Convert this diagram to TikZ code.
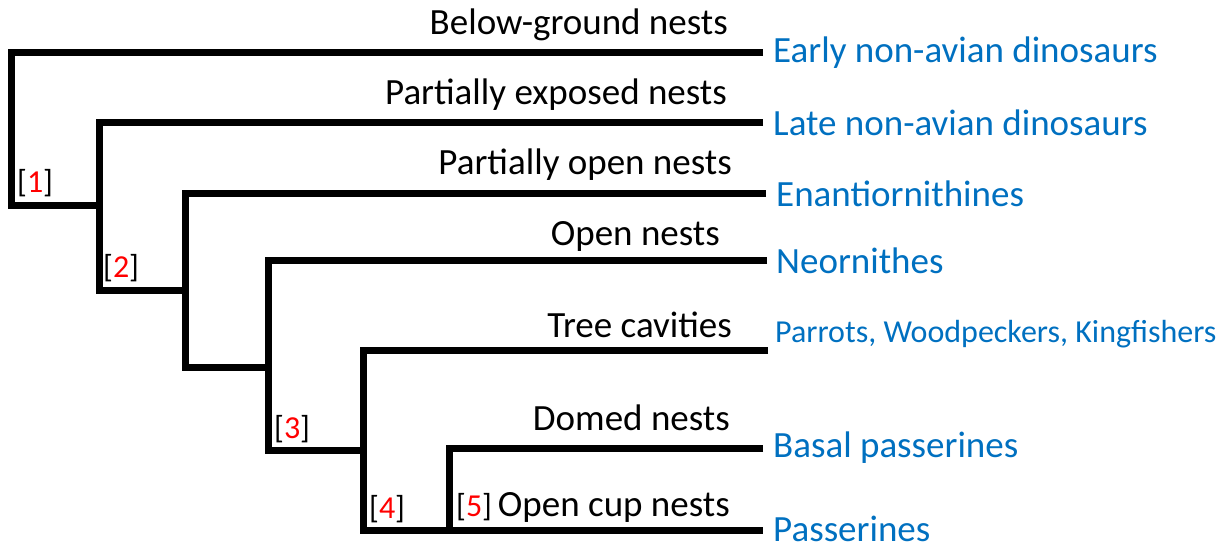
\documentclass[tikz,border=0pt]{standalone}
\usepackage{fontspec}
\setmainfont{Carlito}
\definecolor{tipblue}{HTML}{0070C0}
\definecolor{numred}{HTML}{FF0000}
\begin{document}
\begin{tikzpicture}[x=1pt,y=-1pt,
  branch/.style={line width=7pt,line join=miter},
  tip/.style={anchor=west,text=tipblue,font=\fontsize{37}{42}\selectfont,inner sep=0pt},
  smalltip/.style={tip,font=\fontsize{32}{36}\selectfont},
  nest/.style={anchor=east,font=\fontsize{37}{42}\selectfont,inner sep=0pt},
  num/.style={anchor=west,font=\fontsize{32}{36}\selectfont,inner sep=0pt}]
\useasboundingbox (0,0) rectangle (1228,550);
% tips
\coordinate (t1) at (763,52);
\coordinate (t2) at (763,122);
\coordinate (t3) at (766,193);
\coordinate (t4) at (767,260);
\coordinate (t5) at (768,350);
\coordinate (t6) at (763,448);
\coordinate (t7) at (763,530);
% internal nodes
\coordinate (r1) at (11,205);
\coordinate (r2) at (99,290);
\coordinate (r3) at (185,367);
\coordinate (r4) at (268,450);
\coordinate (r5) at (363,530);
\coordinate (r6) at (449,530);
\draw[branch] (t1) -| (r1) -- (99,205);
\draw[branch] (t2) -| (r2) -- (185,290);
\draw[branch] (t3) -| (r3) -- (268,367);
\draw[branch] (t4) -| (r4) -- (363,450);
\draw[branch] (t5) -| (r5) -- (t7);
\draw[branch] (t6) -| (r6);
% tip labels
\node[tip] (l1) at (773,53) {Early non-avian dinosaurs};
\node[tip] (l2) at (773,123) {Late non-avian dinosaurs};
\node[tip] (l3) at (776,194) {Enantiornithines};
\node[tip] (l4) at (776,261) {Neornithes};
\node[smalltip] (l5) at (775,334) {Parrots, Woodpeckers, Kingfishers};
\node[tip] (l6) at (773,448) {Basal passerines};
\node[tip] (l7) at (773,529) {Passerines};
% nest labels
\node[nest] (n1) at (728,25) {Below-ground nests};
\node[nest] (n2) at (727,95) {Partially exposed nests};
\node[nest] (n3) at (732,165) {Partially open nests};
\node[nest] (n4) at (720,236) {Open nests};
\node[nest] (n5) at (732,325) {Tree cavities};
\node[nest] (n6) at (730,418) {Domed nests};
\node[nest] (n7) at (730,507) {Open cup nests};
% numbers
\node[num] (k1) at (17,183) {[\textcolor{numred}{1}]};
\node[num] (k2) at (103,268) {[\textcolor{numred}{2}]};
\node[num] (k3) at (274,429) {[\textcolor{numred}{3}]};
\node[num] (k4) at (369,509) {[\textcolor{numred}{4}]};
\node[num] (k5) at (456,507) {[\textcolor{numred}{5}]};
\end{tikzpicture}
\end{document}
